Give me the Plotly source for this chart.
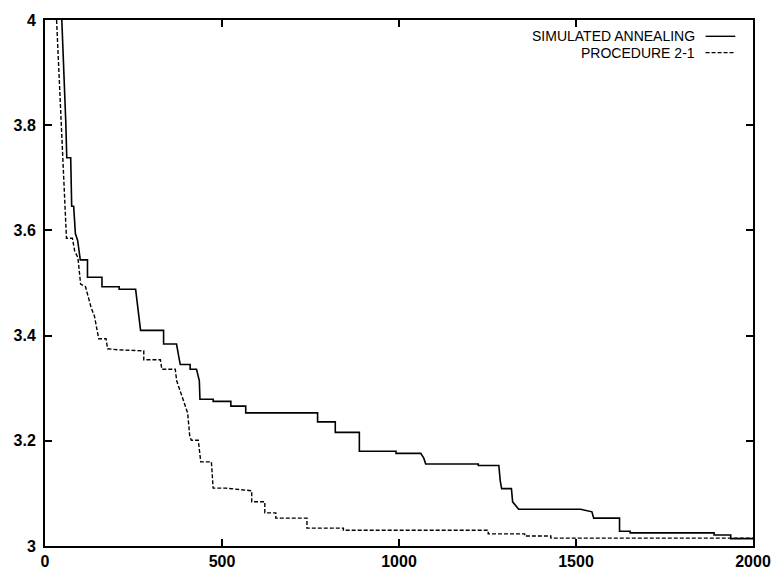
import plotly.graph_objects as go

# Simulated annealing: best cost vs iteration (vertices of the step curve)
sa_x = [47.5, 53, 58.7, 61.5, 72.6, 75.4, 81, 85.8, 92.2, 99.7, 120, 120, 161, 161, 209.5, 209.5, 256,
        270, 335, 335, 371.5, 382, 410, 410, 428, 436, 437.7, 475, 475, 525, 525, 567, 567,
        770, 770, 820, 820, 888, 888, 991.6, 991.6, 1061.5, 1070, 1075.4, 1224, 1224, 1282, 1286, 1290,
        1317.6, 1321, 1338, 1513, 1545, 1550, 1623, 1623, 1653, 1653, 1890, 1890, 1937, 1937, 2000]
sa_y = [4.0, 3.917, 3.806, 3.738, 3.738, 3.646, 3.646, 3.594, 3.581, 3.544, 3.544, 3.511, 3.511, 3.493,
        3.493, 3.488, 3.488, 3.41, 3.41, 3.384, 3.384, 3.345, 3.345, 3.336, 3.336, 3.314, 3.279, 3.279,
        3.275, 3.275, 3.266, 3.266, 3.253, 3.253, 3.236, 3.236, 3.216, 3.216, 3.180, 3.180, 3.176, 3.176,
        3.167, 3.156, 3.156, 3.153, 3.153, 3.124, 3.109, 3.109, 3.084, 3.070, 3.070, 3.065, 3.053, 3.053,
        3.028, 3.028, 3.025, 3.025, 3.021, 3.021, 3.014, 3.014]

# Procedure 2-1
p_x = [32.7, 43.9, 55.9, 60.6, 77.4, 83.8, 93, 99.7, 100.6, 114.5, 123, 130.4, 139.7, 151.7, 172.3,
       176.8, 204.7, 256, 279, 279, 326, 330, 368, 372, 382, 391, 403, 408.7, 413.4, 433, 440, 470, 475,
       510, 584, 584, 621, 621, 652, 652, 740, 740, 843, 843, 1252, 1252, 1355, 1355, 1429, 1429, 2000]
p_y = [4.0, 3.843, 3.659, 3.585, 3.585, 3.561, 3.548, 3.498, 3.498, 3.493, 3.469, 3.453, 3.437, 3.394,
       3.394, 3.375, 3.373, 3.371, 3.371, 3.354, 3.354, 3.336, 3.336, 3.314, 3.295, 3.275, 3.253, 3.210,
       3.201, 3.201, 3.16, 3.16, 3.11, 3.11, 3.105, 3.084, 3.084, 3.063, 3.063, 3.053, 3.053, 3.034,
       3.034, 3.030, 3.030, 3.023, 3.023, 3.019, 3.019, 3.015, 3.015]

series_names = ["SIMULATED ANNEALING", "PROCEDURE 2-1"]
x_ticks = [0, 500, 1000, 1500, 2000]
x_labels = ["0", "500", "1000", "1500", "2000"]
y_ticks = [3.0, 3.2, 3.4, 3.6, 3.8, 4.0]
y_labels = ["3", "3.2", "3.4", "3.6", "3.8", "4"]

fig = go.Figure()
fig.add_trace(go.Scatter(x=sa_x, y=sa_y, mode="lines", name=series_names[0],
                         line=dict(color="black", width=1.6), showlegend=False))
fig.add_trace(go.Scatter(x=p_x, y=p_y, mode="lines", name=series_names[1],
                         line=dict(color="black", width=1.4, dash="4px,2px"), showlegend=False))

# legend drawn to match reference layout (text then line sample)
leg_y = [0.969, 0.938]
dashes = ["solid", "4px,2px"]
for name, yy, d in zip(series_names, leg_y, dashes):
    fig.add_annotation(x=0.920, y=yy, xref="paper", yref="paper", text=name, showarrow=False,
                       xanchor="right", yanchor="middle", borderpad=0,
                       font=dict(family="Liberation Sans, Arial", size=14, color="black"))
    fig.add_shape(type="line", xref="paper", yref="paper", x0=0.933, x1=0.975, y0=yy, y1=yy,
                  line=dict(color="black", width=1.4, dash=d))

axis_common = dict(showline=True, linecolor="black", linewidth=2, mirror="allticks",
                   ticks="inside", ticklen=7, tickwidth=2, tickcolor="black", showgrid=False,
                   zeroline=False,
                   tickfont=dict(family="Liberation Sans, Arial", size=16, color="black", weight="bold"))
fig.update_xaxes(range=[0, 2000], tickvals=x_ticks, ticktext=x_labels, **axis_common)
fig.update_yaxes(range=[3, 4], tickvals=y_ticks, ticktext=y_labels, ticklabelstandoff=4, **axis_common)

fig.update_layout(width=783, height=582, margin=dict(l=45, r=22, t=15, b=25),
                  plot_bgcolor="white", paper_bgcolor="white")
fig.write_html("out.html")
